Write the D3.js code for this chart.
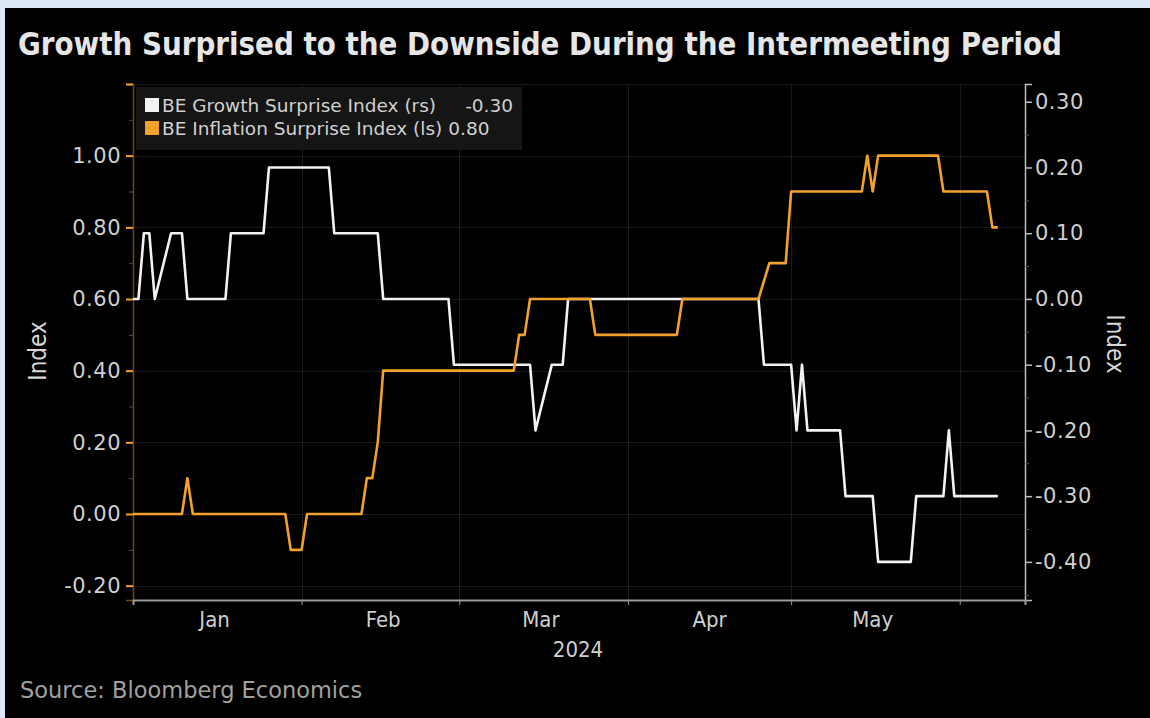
<!DOCTYPE html>
<html>
<head>
<meta charset="utf-8">
<script src="https://cdn.jsdelivr.net/npm/d3@7"></script>
<style>
  html, body { margin: 0; padding: 0; background: #dde9f6; }
  svg { display: block; }
  text { font-family: "DejaVu Sans Condensed", "DejaVu Sans", sans-serif; }
</style>
</head>
<body>
<script>
// growth surprise index (right scale)
var growthDates = ["2024-01-01","2024-01-02","2024-01-03","2024-01-04","2024-01-05","2024-01-08","2024-01-10","2024-01-11",
  "2024-01-18","2024-01-19","2024-01-25","2024-01-26","2024-02-06","2024-02-07","2024-02-15","2024-02-16",
  "2024-02-28","2024-02-29","2024-03-14","2024-03-15","2024-03-18","2024-03-20","2024-03-21","2024-04-25",
  "2024-04-26","2024-05-01","2024-05-02","2024-05-03","2024-05-04","2024-05-10","2024-05-11","2024-05-16",
  "2024-05-17","2024-05-23","2024-05-24","2024-05-29","2024-05-30","2024-05-31","2024-06-08"];
var growthValues = [0.0,0.0,0.1,0.1,0.0,0.1,0.1,0.0,
  0.0,0.1,0.1,0.2,0.2,0.1,0.1,0.0,
  0.0,-0.1,-0.1,-0.2,-0.1,-0.1,0.0,0.0,
  -0.1,-0.1,-0.2,-0.1,-0.2,-0.2,-0.3,-0.3,
  -0.4,-0.4,-0.3,-0.3,-0.2,-0.3,-0.3];

// inflation surprise index (left scale)
var inflationDates = ["2024-01-01","2024-01-10","2024-01-11","2024-01-12","2024-01-29","2024-01-30","2024-02-01","2024-02-02",
  "2024-02-12","2024-02-13","2024-02-14","2024-02-15","2024-02-16","2024-03-11","2024-03-12","2024-03-13",
  "2024-03-14","2024-03-25","2024-03-26","2024-04-10","2024-04-11","2024-04-25","2024-04-27","2024-04-30",
  "2024-05-01","2024-05-14","2024-05-15","2024-05-16","2024-05-17","2024-05-28","2024-05-29","2024-06-06",
  "2024-06-07","2024-06-08"];
var inflationValues = [0.0,0.0,0.1,0.0,0.0,-0.1,-0.1,0.0,
  0.0,0.1,0.1,0.2,0.4,0.4,0.5,0.5,
  0.6,0.6,0.5,0.5,0.6,0.6,0.7,0.7,
  0.9,0.9,1.0,0.9,1.0,1.0,0.9,0.9,
  0.8,0.8];

var leftTicks = [-0.2, 0, 0.2, 0.4, 0.6, 0.8, 1.0, 1.2];
var rightTicks = [-0.4, -0.3, -0.2, -0.1, 0, 0.1, 0.2, 0.3];
var monthLabels = ["Jan", "Feb", "Mar", "Apr", "May"];

var legendNames = ["BE Growth Surprise Index (rs)", "BE Inflation Surprise Index (ls)"];
var legendLast = ["-0.30", "0.80"];

var W = 1150, H = 718;
var mL = 133, mR = 1025, mT = 84, mB = 600;
var orange = "#f2a22a", white = "#f2f2f2";
var wide = "'DejaVu Sans', sans-serif";

var parse = d3.timeParse("%Y-%m-%d");
var growth = growthDates.map(function(d, i) { return {date: parse(d), value: growthValues[i]}; });
var inflation = inflationDates.map(function(d, i) { return {date: parse(d), value: inflationValues[i]}; });

var x = d3.scaleTime().domain([parse("2024-01-01"), parse("2024-06-13")]).range([mL, mR]);
var yL = d3.scaleLinear().domain([-0.24, 1.2]).range([mB, mT]);
var yR = d3.scaleLinear().domain([-0.458, 0.327]).range([mB, mT]);
var fmt = function(d) { return d.toFixed(2); };

var svg = d3.select("body").append("svg").attr("width", W).attr("height", H);

svg.append("rect").attr("x", 5).attr("y", 8).attr("width", W - 5).attr("height", H - 8).attr("fill", "#000");

// title
svg.append("text")
    .attr("x", 18).attr("y", 55)
    .attr("fill", "#e6e6e6")
    .style("font-size", "32px")
    .style("font-weight", "bold")
    .attr("textLength", 1044).attr("lengthAdjust", "spacingAndGlyphs")
    .text("Growth Surprised to the Downside During the Intermeeting Period");

// faint grid
var months = d3.timeMonth.range(parse("2024-02-01"), parse("2024-06-02"));
svg.append("g").selectAll("line").data(months).enter().append("line")
    .attr("x1", function(d) { return Math.round(x(d)) + 0.5; })
    .attr("x2", function(d) { return Math.round(x(d)) + 0.5; })
    .attr("y1", mT).attr("y2", mB)
    .attr("stroke", "#1a1a1a").attr("stroke-width", 1);
svg.append("g").selectAll("line").data(leftTicks).enter().append("line")
    .attr("x1", mL).attr("x2", mR)
    .attr("y1", function(d) { return Math.round(yL(d)) + 0.5; })
    .attr("y2", function(d) { return Math.round(yL(d)) + 0.5; })
    .attr("stroke", "#1a1a1a").attr("stroke-width", 1);

// legend
var lg = svg.append("g");
lg.append("rect").attr("x", 136).attr("y", 87).attr("width", 386).attr("height", 63).attr("fill", "#151515");
var names = [];
[white, orange].forEach(function(c, i) {
    lg.append("rect").attr("x", 145).attr("y", 98 + i * 23).attr("width", 14).attr("height", 14).attr("fill", c);
    names.push(lg.append("text").attr("x", 162).attr("y", 112 + i * 23)
        .attr("fill", "#d0d0d0").style("font-size", "18.5px").style("font-family", wide)
        .text(legendNames[i]));
});
lg.append("text").attr("x", 513).attr("y", 112).attr("text-anchor", "end")
    .attr("fill", "#d0d0d0").style("font-size", "18.5px").style("font-family", wide).text(legendLast[0]);
var nameW = names[1].node().getComputedTextLength();
lg.append("text").attr("x", 162 + nameW + 6).attr("y", 135)
    .attr("fill", "#d0d0d0").style("font-size", "18.5px").style("font-family", wide).text(legendLast[1]);

// left axis
var axL = svg.append("g").attr("transform", "translate(" + mL + ",0)")
    .call(d3.axisLeft(yL).tickValues(leftTicks).tickSize(7).tickPadding(5)
        .tickFormat(function(d) { return d > 1.1 ? "" : fmt(d); }));
axL.select(".domain").attr("stroke", "#6a4a12").attr("stroke-width", 1.5);
axL.selectAll(".tick line").attr("stroke", orange).attr("stroke-width", 2);
axL.selectAll(".tick text").attr("fill", "#cfcfcf").style("font-size", "21px").style("font-family", wide)
    .style("letter-spacing", "0.5px");
svg.append("g").attr("transform", "translate(" + mL + ",0)")
    .call(d3.axisLeft(yL).tickValues([-0.1, 0.1, 0.3, 0.5, 0.7, 0.9, 1.1]).tickSize(4).tickFormat(""))
    .call(function(g) { g.select(".domain").remove(); g.selectAll("line").attr("stroke", "#4a4a4a"); });

// right axis
var axR = svg.append("g").attr("transform", "translate(" + mR + ",0)")
    .call(d3.axisRight(yR).tickValues(rightTicks).tickSize(7).tickPadding(3).tickFormat(fmt));
axR.select(".domain").attr("stroke", "#bdbdbd").attr("stroke-width", 1.5);
axR.selectAll(".tick line").attr("stroke", "#bdbdbd").attr("stroke-width", 1.5);
axR.selectAll(".tick text").attr("fill", "#cfcfcf").style("font-size", "21px").style("font-family", wide)
    .style("letter-spacing", "0.5px");
svg.append("g").attr("transform", "translate(" + mR + ",0)")
    .call(d3.axisRight(yR).tickValues([-0.45, -0.35, -0.25, -0.15, -0.05, 0.05, 0.15, 0.25]).tickSize(4).tickFormat(""))
    .call(function(g) { g.select(".domain").remove(); g.selectAll("line").attr("stroke", "#5a5a5a"); });

// bottom axis
var axB = svg.append("g").attr("transform", "translate(0," + mB + ")")
    .call(d3.axisBottom(x).tickValues(months).tickSize(5).tickFormat(""));
axB.select(".domain").attr("stroke", "#9a9a9a").attr("stroke-width", 2);
axB.selectAll(".tick line").attr("stroke", "#9a9a9a");
var mids = monthLabels.map(function(m, i) { return new Date(2024, i, 16); });
svg.append("g").selectAll("text").data(mids).enter().append("text")
    .attr("x", function(d) { return x(d); }).attr("y", 627)
    .attr("text-anchor", "middle").attr("fill", "#cfcfcf").style("font-size", "22px")
    .text(function(d, i) { return monthLabels[i]; });
svg.append("text").attr("x", 578).attr("y", 657).attr("text-anchor", "middle")
    .attr("fill", "#cfcfcf").style("font-size", "22px").text("2024");

// axis titles
svg.append("text").attr("transform", "translate(46,351) rotate(-90)").attr("text-anchor", "middle")
    .attr("fill", "#d6d6d6").style("font-size", "24px").text("Index");
svg.append("text").attr("transform", "translate(1107,344) rotate(90)").attr("text-anchor", "middle")
    .attr("fill", "#d6d6d6").style("font-size", "24px").text("Index");

// lines
var lineG = d3.line().x(function(d) { return x(d.date); }).y(function(d) { return yR(d.value); });
var lineI = d3.line().x(function(d) { return x(d.date); }).y(function(d) { return yL(d.value); });
svg.append("path").datum(growth).attr("d", lineG)
    .attr("fill", "none").attr("stroke", white).attr("stroke-width", 2.6).attr("stroke-linejoin", "round");
svg.append("path").datum(inflation).attr("d", lineI)
    .attr("fill", "none").attr("stroke", orange).attr("stroke-width", 2.6).attr("stroke-linejoin", "round");

// source
svg.append("text").attr("x", 20).attr("y", 698).attr("fill", "#a0a0a0").style("font-size", "22.5px")
    .style("font-family", wide)
    .text("Source: Bloomberg Economics");
</script>
</body>
</html>
